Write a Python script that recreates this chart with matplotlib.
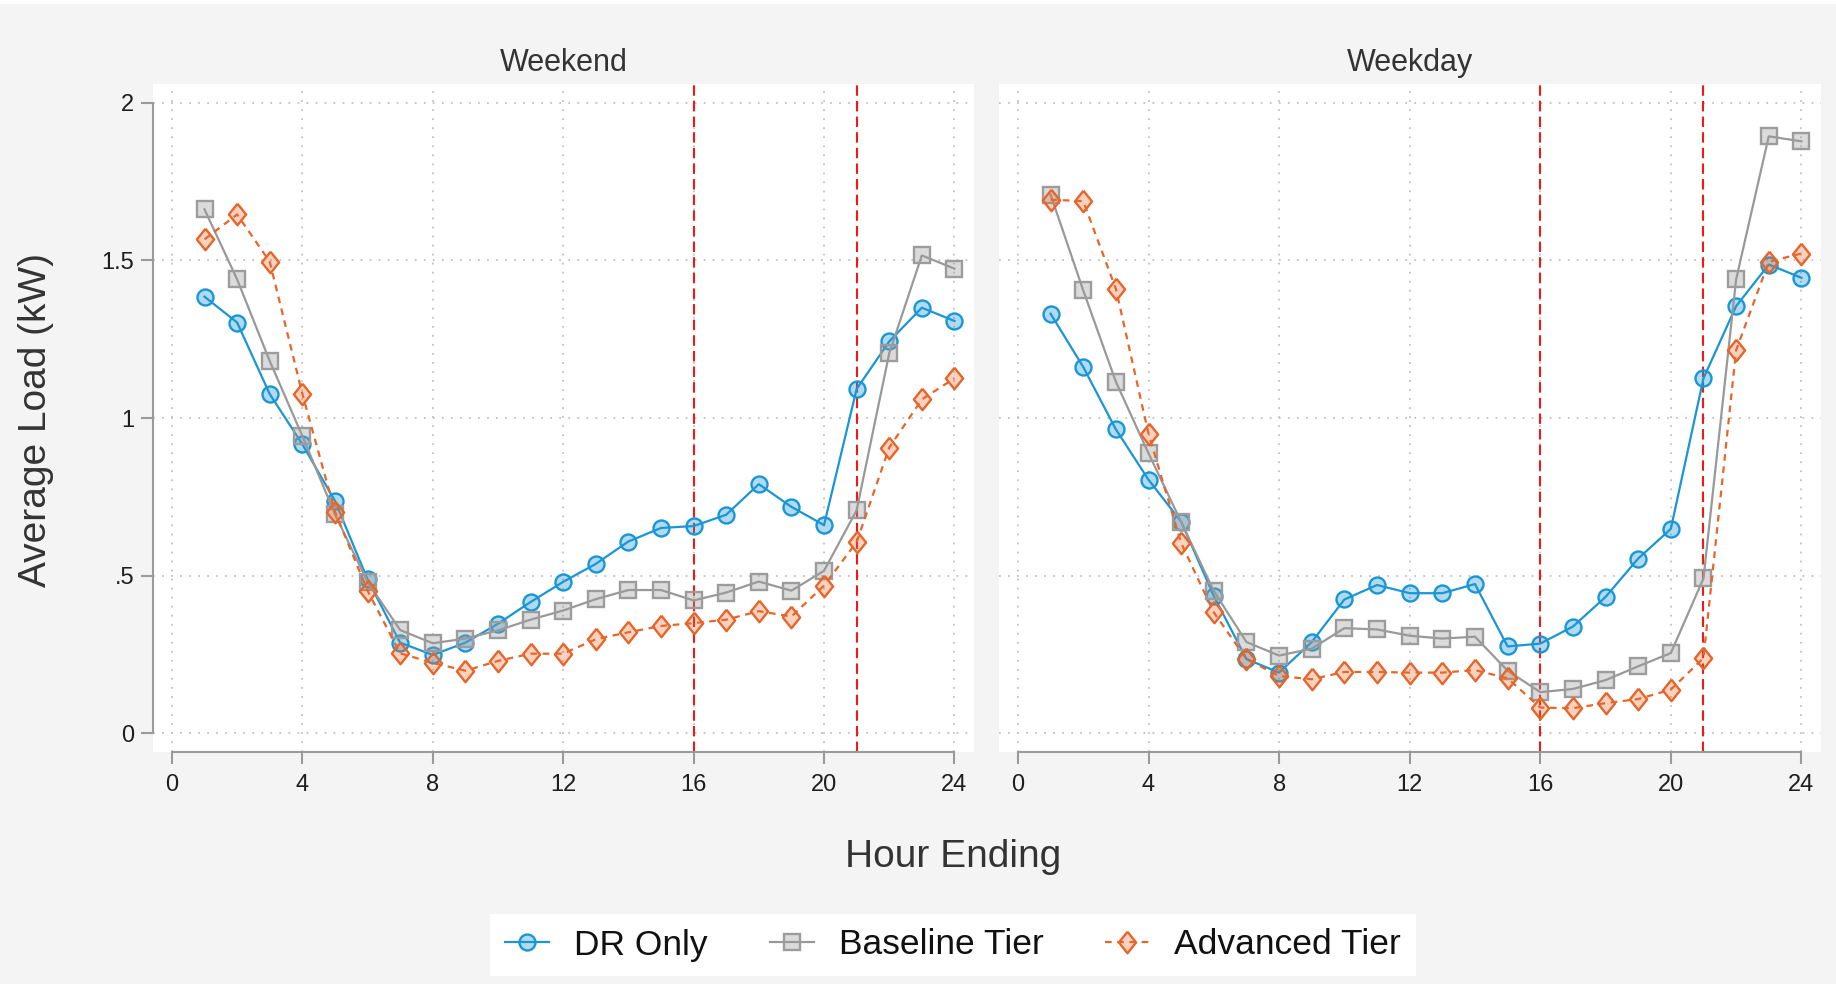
import matplotlib
matplotlib.use("Agg")
import matplotlib.pyplot as plt
from matplotlib.patches import Rectangle
from matplotlib.lines import Line2D

plt.rcParams['font.family'] = ['Liberation Sans', 'DejaVu Sans']

hours = list(range(1, 25))

weekend_dr = [1.385, 1.303, 1.076, 0.917, 0.737, 0.488, 0.287, 0.248, 0.287, 0.347,
              0.416, 0.480, 0.537, 0.608, 0.651, 0.657, 0.693, 0.790, 0.718, 0.660,
              1.092, 1.243, 1.350, 1.308]
weekend_base = [1.662, 1.440, 1.181, 0.943, 0.695, 0.480, 0.327, 0.285, 0.300, 0.326,
                0.360, 0.389, 0.425, 0.454, 0.454, 0.421, 0.446, 0.481, 0.452, 0.515,
                0.707, 1.205, 1.516, 1.474]
weekend_adv = [1.567, 1.646, 1.496, 1.077, 0.703, 0.452, 0.253, 0.223, 0.198, 0.229,
               0.252, 0.252, 0.298, 0.320, 0.340, 0.349, 0.360, 0.387, 0.370, 0.468,
               0.606, 0.906, 1.059, 1.126]

weekday_dr = [1.331, 1.162, 0.964, 0.804, 0.671, 0.435, 0.235, 0.192, 0.289, 0.424,
              0.470, 0.444, 0.444, 0.473, 0.275, 0.284, 0.338, 0.432, 0.554, 0.648,
              1.126, 1.355, 1.487, 1.445]
weekday_base = [1.709, 1.405, 1.115, 0.888, 0.670, 0.451, 0.289, 0.246, 0.268, 0.333,
                0.329, 0.309, 0.300, 0.306, 0.198, 0.130, 0.140, 0.168, 0.212, 0.254,
                0.491, 1.440, 1.894, 1.878]
weekday_adv = [1.693, 1.688, 1.410, 0.950, 0.603, 0.383, 0.235, 0.181, 0.171, 0.194,
               0.194, 0.192, 0.192, 0.200, 0.174, 0.081, 0.079, 0.095, 0.108, 0.138,
               0.238, 1.215, 1.496, 1.522]

peak_hours = [16, 21]
panel_titles = ["Weekend", "Weekday"]
series_labels = ["DR Only", "Baseline Tier", "Advanced Tier"]
x_ticks = [0, 4, 8, 12, 16, 20, 24]
y_ticks = [0, 0.5, 1, 1.5, 2]
y_ticklabels = ["0", ".5", "1", "1.5", "2"]

W, H = 1836, 984
BG = '#f4f4f4'
AXIS_GRAY = '#9a9a9a'

diamond = [(0, 1), (0.8, 0), (0, -1), (-0.8, 0), (0, 1)]
styles = [
    dict(color='#1a96d5', linestyle='-', linewidth=1.6, marker='o', markersize=11.5,
         markerfacecolor=(0.10, 0.59, 0.84, 0.35), markeredgecolor='#1a96d5', markeredgewidth=1.7),
    dict(color='#999999', linestyle='-', linewidth=1.6, marker='s', markersize=11.5,
         markerfacecolor=(0.60, 0.60, 0.60, 0.35), markeredgecolor='#9c9c9c', markeredgewidth=1.7),
    dict(color='#e6652a', linestyle=(0, (3, 2.5)), linewidth=1.6, marker=diamond, markersize=15.5,
         markerfacecolor=(0.93, 0.42, 0.18, 0.30), markeredgecolor='#e6652a', markeredgewidth=1.7),
]

fig = plt.figure(figsize=(W / 100, H / 100), dpi=100)
fig.patch.set_facecolor('white')
fig.add_artist(Rectangle((0, 0), 1, 1 - 4 / H, transform=fig.transFigure,
                         facecolor=BG, edgecolor='none', zorder=-10))

panels = [
    (153, 974, [weekend_dr, weekend_base, weekend_adv]),
    (999, 1821, [weekday_dr, weekday_base, weekday_adv]),
]
top_px, bot_px = 84, 752

for i, (x0, x1, data) in enumerate(panels):
    ax = fig.add_axes([x0 / W, (H - bot_px) / H, (x1 - x0) / W, (bot_px - top_px) / H])
    ax.set_facecolor('white')
    ax.set_xlim(-0.58, 24.6)
    ax.set_ylim(-0.06, 2.06)
    ax.set_axisbelow(True)
    ax.grid(True, color='#c2c2c2', linestyle=(0, (1, 4)), linewidth=1.3)

    for h in peak_hours:
        ax.axvline(h, color='#f01818', linestyle=(0, (5, 2.5)), linewidth=1.5, zorder=1.5)

    for vals, st in zip(data, styles):
        ax.plot(hours, vals, zorder=3, **st)

    for s in ['top', 'right']:
        ax.spines[s].set_visible(False)
    ax.spines['bottom'].set_bounds(0, 24)
    ax.spines['bottom'].set_color(AXIS_GRAY)
    ax.spines['bottom'].set_linewidth(1.5)
    ax.set_xticks(x_ticks)
    ax.set_xticklabels([str(t) for t in x_ticks])
    ax.set_yticks(y_ticks)
    ax.tick_params(axis='x', direction='out', length=8.6, width=1.5, color=AXIS_GRAY,
                   labelsize=17, labelcolor='#1e1e1e', pad=7)
    if i == 0:
        ax.spines['left'].set_bounds(0, 2)
        ax.spines['left'].set_color(AXIS_GRAY)
        ax.spines['left'].set_linewidth(1.5)
        ax.set_yticklabels(y_ticklabels)
        ax.tick_params(axis='y', direction='out', length=8.6, width=1.5, color=AXIS_GRAY,
                       labelsize=17, labelcolor='#1e1e1e', pad=5)
    else:
        ax.spines['left'].set_visible(False)
        ax.tick_params(axis='y', length=0, labelleft=False)

    fig.text((x0 + x1) / 2 / W, 1 - 63 / H, panel_titles[i], ha='center', va='center',
             fontsize=22, color='#333333')

fig.text(953 / W, 1 - 857 / H, "Hour Ending", ha='center', va='center',
         fontsize=28, color='#333333')
fig.text(36 / W, 1 - 420 / H, "Average Load (kW)", ha='center', va='center',
         rotation=90, fontsize=28, color='#333333')

handles = [Line2D([], [], **st) for st in styles]
leg = fig.legend(handles, series_labels, loc='center', bbox_to_anchor=(953 / W, 1 - 945 / H),
                 ncol=3, fontsize=25.5, frameon=True, fancybox=False, framealpha=1,
                 handlelength=1.25, handletextpad=0.7, columnspacing=1.75,
                 borderpad=0.42, numpoints=1)
leg.get_frame().set_facecolor('white')
leg.get_frame().set_edgecolor('none')
for t in leg.get_texts():
    t.set_color('#111111')

fig.savefig('out.png', dpi=100, facecolor=fig.get_facecolor())
